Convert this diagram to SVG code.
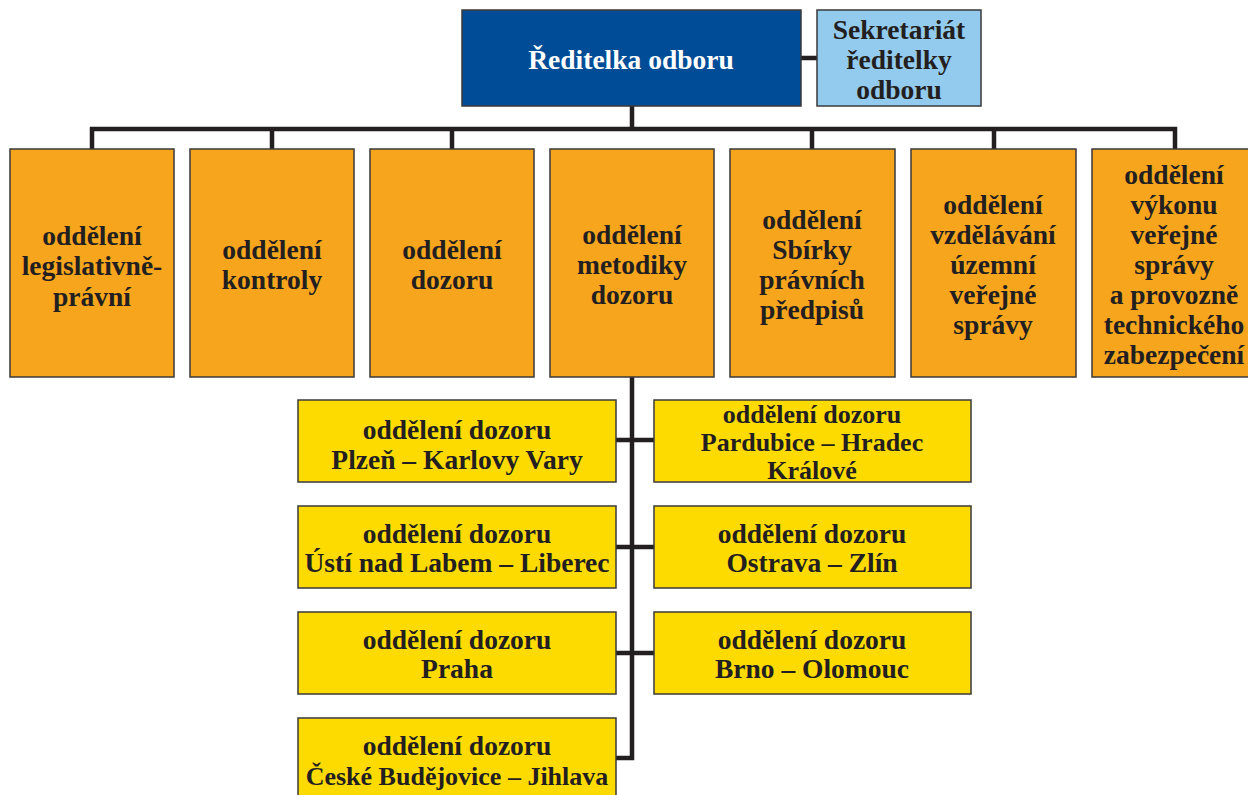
<svg xmlns="http://www.w3.org/2000/svg" width="1248" height="795" viewBox="0 0 1248 795" font-family="'Liberation Serif', 'Times New Roman', serif">
<style>
text{font-family:"Liberation Serif","Times New Roman",serif;font-weight:bold;font-size:27.5px;fill:#231f20;text-anchor:middle}
.box{stroke:#3a3a3a;stroke-width:1.5}
.o{fill:#f6a51d}
.y{fill:#fdda00}
.ln{fill:none;stroke:#231f20;stroke-width:4.5}
.w{fill:#ffffff}
.s{font-size:26px}
</style>
<rect width="1248" height="795" fill="#ffffff"/>
<g id="connectors">
<path class="ln" d="M801 58H817 M632 106V129 M92 149V129H1175V149 M272 129V149 M452 129V149 M812 129V149 M994 129V149 M632 377V758H616 M616 440H654 M616 547H654 M616 653H654"/>
</g>
<g id="director"><rect class="box" x="462" y="10" width="339" height="96" fill="#004c97"/><text class="w" x="631" y="69">Ředitelka odboru</text></g>
<g id="secretariat"><rect class="box" x="817" y="10" width="164" height="96" fill="#93cbee"/><text x="899" y="39">Sekretariát</text><text x="899" y="69">ředitelky</text><text x="899" y="99">odboru</text></g>
<g id="d1"><rect class="box o" x="10" y="149" width="164" height="228"/><text x="92" y="245">oddělení</text><text x="92" y="275">legislativně-</text><text x="92" y="306">právní</text></g>
<g id="d2"><rect class="box o" x="190" y="149" width="164" height="228"/><text x="272" y="259">oddělení</text><text x="272" y="289">kontroly</text></g>
<g id="d3"><rect class="box o" x="370" y="149" width="164" height="228"/><text x="452" y="259">oddělení</text><text x="452" y="289">dozoru</text></g>
<g id="d4"><rect class="box o" x="550" y="149" width="164" height="228"/><text x="632" y="244">oddělení</text><text x="632" y="274">metodiky</text><text x="632" y="304">dozoru</text></g>
<g id="d5"><rect class="box o" x="730" y="149" width="165" height="228"/><text x="812" y="229">oddělení</text><text x="812" y="259">Sbírky</text><text x="812" y="289">právních</text><text x="812" y="319">předpisů</text></g>
<g id="d6"><rect class="box o" x="911" y="149" width="165" height="228"/><text x="993" y="214">oddělení</text><text x="993" y="244">vzdělávání</text><text x="993" y="274">územní</text><text x="993" y="304">veřejné</text><text x="993" y="334">správy</text></g>
<g id="d7"><rect class="box o" x="1092" y="149" width="166" height="228"/><text x="1174" y="184">oddělení</text><text x="1174" y="214">výkonu</text><text x="1174" y="244">veřejné</text><text x="1174" y="274">správy</text><text x="1174" y="304">a provozně</text><text x="1174" y="334">technického</text><text x="1174" y="364">zabezpečení</text></g>
<g id="r1"><rect class="box y" x="298" y="400" width="318" height="82"/><text x="457" y="439">oddělení dozoru</text><text x="457" y="469">Plzeň – Karlovy Vary</text></g>
<g id="r2"><rect class="box y" x="654" y="400" width="317" height="82"/><text class="s" x="812" y="423">oddělení dozoru</text><text class="s" x="812" y="451">Pardubice – Hradec</text><text class="s" x="812" y="479">Králové</text></g>
<g id="r3"><rect class="box y" x="298" y="506" width="318" height="82"/><text x="457" y="543">oddělení dozoru</text><text x="457" y="572">Ústí nad Labem – Liberec</text></g>
<g id="r4"><rect class="box y" x="654" y="506" width="317" height="82"/><text x="812" y="543">oddělení dozoru</text><text x="812" y="572">Ostrava – Zlín</text></g>
<g id="r5"><rect class="box y" x="298" y="612" width="318" height="82"/><text x="457" y="649">oddělení dozoru</text><text x="457" y="678">Praha</text></g>
<g id="r6"><rect class="box y" x="654" y="612" width="317" height="82"/><text x="812" y="649">oddělení dozoru</text><text x="812" y="678">Brno – Olomouc</text></g>
<g id="r7"><rect class="box y" x="298" y="718" width="318" height="90"/><text x="457" y="755">oddělení dozoru</text><text class="s" x="457" y="785">České Budějovice – Jihlava</text></g>
</svg>
